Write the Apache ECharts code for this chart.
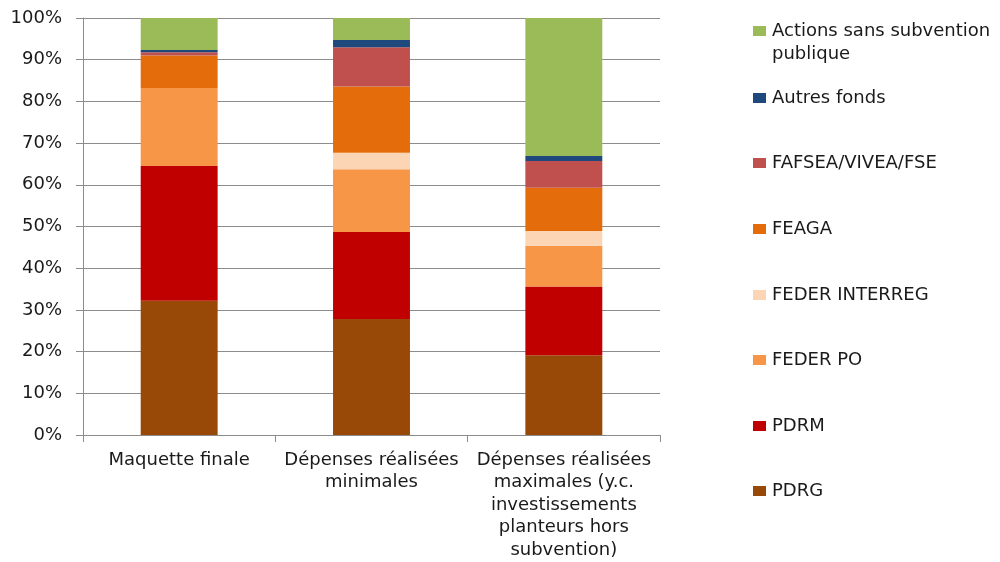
<!DOCTYPE html>
<html>
<head>
<meta charset="utf-8">
<title>Répartition des financements</title>
<script src="https://cdn.jsdelivr.net/npm/echarts@6/dist/echarts.min.js"></script>
<style>
  html, body { margin: 0; padding: 0; background: #ffffff; }
  #chart { width: 1000px; height: 562px; }
</style>
</head>
<body>
<div id="chart"></div>
<script>
// Categories (x axis)
const categories = [
  'Maquette finale',
  'Dépenses réalisées\nminimales',
  'Dépenses réalisées\nmaximales (y.c.\ninvestissements\nplanteurs hors\nsubvention)'
];

// Shares of each funding source, in % (stacked bottom to top)
const pdrg          = [32.2, 27.8, 19.1];
const pdrm          = [32.3, 20.9, 16.5];
const federPo       = [18.7, 15.0,  9.8];
const federInterreg = [ 0.0,  4.0,  3.5];
const feaga         = [ 7.8, 15.9, 10.4];
const fafsea        = [ 0.8,  9.4,  6.4];
const autresFonds   = [ 0.5,  1.7,  1.2];
const sansSubvention= [ 7.7,  5.3, 33.1];

// Y axis ticks
const yTicks = [0, 10, 20, 30, 40, 50, 60, 70, 80, 90, 100];

const seriesDefs = [
  { name: 'PDRG', data: pdrg, color: '#984807' },
  { name: 'PDRM', data: pdrm, color: '#C00000' },
  { name: 'FEDER PO', data: federPo, color: '#F79646' },
  { name: 'FEDER INTERREG', data: federInterreg, color: '#FCD5B5' },
  { name: 'FEAGA', data: feaga, color: '#E46C0A' },
  { name: 'FAFSEA/VIVEA/FSE', data: fafsea, color: '#C0504D' },
  { name: 'Autres fonds', data: autresFonds, color: '#1F497D' },
  { name: 'Actions sans subvention publique', data: sansSubvention, color: '#9BBB59' }
];

const FONT = 'DejaVu Sans';
const FONT_SIZE = 18;
const TEXT = '#1a1a1a';
const GRID_COLOR = '#8c8c8c';

// Legend: top-down order, one entry every ~65.5 px
const legendCenters = [30, 97, 162, 228, 294, 359, 425, 490];
const legendOrder = seriesDefs.slice().reverse();
const legends = legendOrder.map((s, i) => {
  const twoLines = s.name === 'Actions sans subvention publique';
  return {
    data: [s.name],
    orient: 'vertical',
    left: 753,
    // two-line entry: an invisible spacer line above keeps the square level with the first line
    top: twoLines ? legendCenters[i] - 31 : legendCenters[i] - 8,
    padding: 0,
    itemWidth: 13,
    itemHeight: 10,
    icon: 'rect',
    selectedMode: false,
    formatter: twoLines
      ? '{e|x}\n{t|Actions sans subvention}\n{t|publique}'
      : '{t|{name}}',
    textStyle: {
      fontFamily: FONT,
      fontSize: FONT_SIZE,
      color: TEXT,
      padding: [0, 0, 0, 1],
      rich: {
        t: { fontFamily: FONT, fontSize: FONT_SIZE, color: TEXT, lineHeight: 23 },
        e: { fontFamily: FONT, fontSize: FONT_SIZE, color: 'rgba(0,0,0,0)', lineHeight: 23 }
      }
    }
  };
});

const chart = echarts.init(document.getElementById('chart'), null, { renderer: 'canvas' });

chart.setOption({
  animation: false,
  backgroundColor: '#ffffff',
  legend: legends,
  grid: { left: 83, right: 340, top: 18, bottom: 127, containLabel: false },
  xAxis: {
    type: 'category',
    data: categories,
    axisLine: { show: true, lineStyle: { color: GRID_COLOR, width: 1 } },
    axisTick: { show: true, length: 7, lineStyle: { color: GRID_COLOR } },
    axisLabel: {
      interval: 0,
      margin: 14,
      fontFamily: FONT,
      fontSize: FONT_SIZE,
      lineHeight: 22.5,
      color: TEXT,
      align: 'center'
    }
  },
  yAxis: {
    type: 'value',
    min: yTicks[0],
    max: yTicks[yTicks.length - 1],
    interval: 10,
    axisLine: { show: true, lineStyle: { color: GRID_COLOR, width: 1 } },
    axisTick: { show: true, length: 7, lineStyle: { color: GRID_COLOR } },
    splitLine: { show: true, lineStyle: { color: GRID_COLOR, width: 1 } },
    axisLabel: {
      margin: 21,
      fontFamily: FONT,
      fontSize: FONT_SIZE,
      color: TEXT,
      formatter: '{value}%'
    }
  },
  series: seriesDefs.map(s => ({
    name: s.name,
    type: 'bar',
    stack: 'total',
    barWidth: '40%',
    data: s.data,
    itemStyle: { color: s.color },
    emphasis: { disabled: true }
  }))
});
</script>
</body>
</html>
